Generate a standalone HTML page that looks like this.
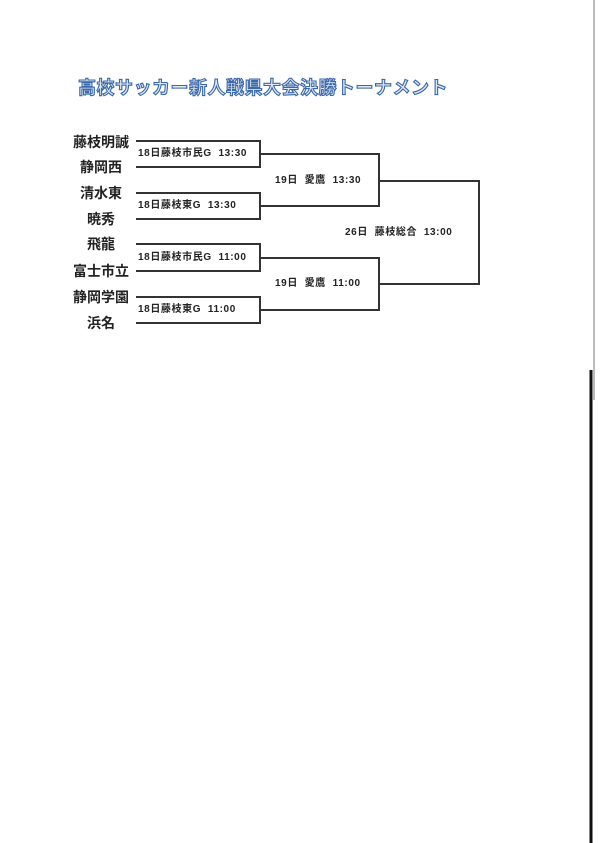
<!DOCTYPE html>
<html><head><meta charset="utf-8"><style>
body{margin:0;width:600px;height:843px;background:#fff;position:relative;overflow:hidden;font-family:"Liberation Sans","Noto Sans CJK JP",sans-serif}
.t{position:absolute;left:78px;top:74px;font-size:18px;font-weight:bold;color:#dfe8f4;-webkit-text-stroke:1.1px #3a68a8;letter-spacing:0.5px;white-space:nowrap}
.n{position:absolute;font-size:14px;font-weight:bold;color:#222;width:60px;text-align:center;left:71px;line-height:16px}
.l{position:absolute;font-size:10px;font-weight:bold;color:#222;white-space:nowrap;line-height:12px;letter-spacing:0.6px}
</style></head><body>
<div class="t">高校サッカー新人戦県大会決勝トーナメント</div>
<div class="n" style="top:134px">藤枝明誠</div>
<div class="n" style="top:159px">静岡西</div>
<div class="n" style="top:185px">清水東</div>
<div class="n" style="top:211px">暁秀</div>
<div class="n" style="top:236px">飛龍</div>
<div class="n" style="top:263px">富士市立</div>
<div class="n" style="top:289px">静岡学園</div>
<div class="n" style="top:315px">浜名</div>
<div class="l" style="left:138px;top:148px">18日藤枝市民G&nbsp;&nbsp;13:30</div>
<div class="l" style="left:138px;top:200px">18日藤枝東G&nbsp;&nbsp;13:30</div>
<div class="l" style="left:138px;top:252px">18日藤枝市民G&nbsp;&nbsp;11:00</div>
<div class="l" style="left:138px;top:304px">18日藤枝東G&nbsp;&nbsp;11:00</div>
<div class="l" style="left:275px;top:175px">19日&nbsp;&nbsp;愛鷹&nbsp;&nbsp;13:30</div>
<div class="l" style="left:275px;top:278px">19日&nbsp;&nbsp;愛鷹&nbsp;&nbsp;11:00</div>
<div class="l" style="left:345px;top:227px">26日&nbsp;&nbsp;藤枝総合&nbsp;&nbsp;13:00</div>
<svg width="600" height="843" style="position:absolute;left:0;top:0" fill="none" stroke="#333" stroke-width="2">
<path d="M136 141H260V167H136M136 193H260V219H136M136 244H260V271H136M136 297H260V323H136"/>
<path d="M260 154H379V206H260M260 258H379V310H260"/>
<path d="M379 181H479V284H379"/>
<line x1="594" y1="0" x2="594" y2="400" stroke="#bbb" stroke-width="2"/>
<line x1="591" y1="370" x2="591" y2="843" stroke="#111" stroke-width="3"/>
</svg>
</body></html>
